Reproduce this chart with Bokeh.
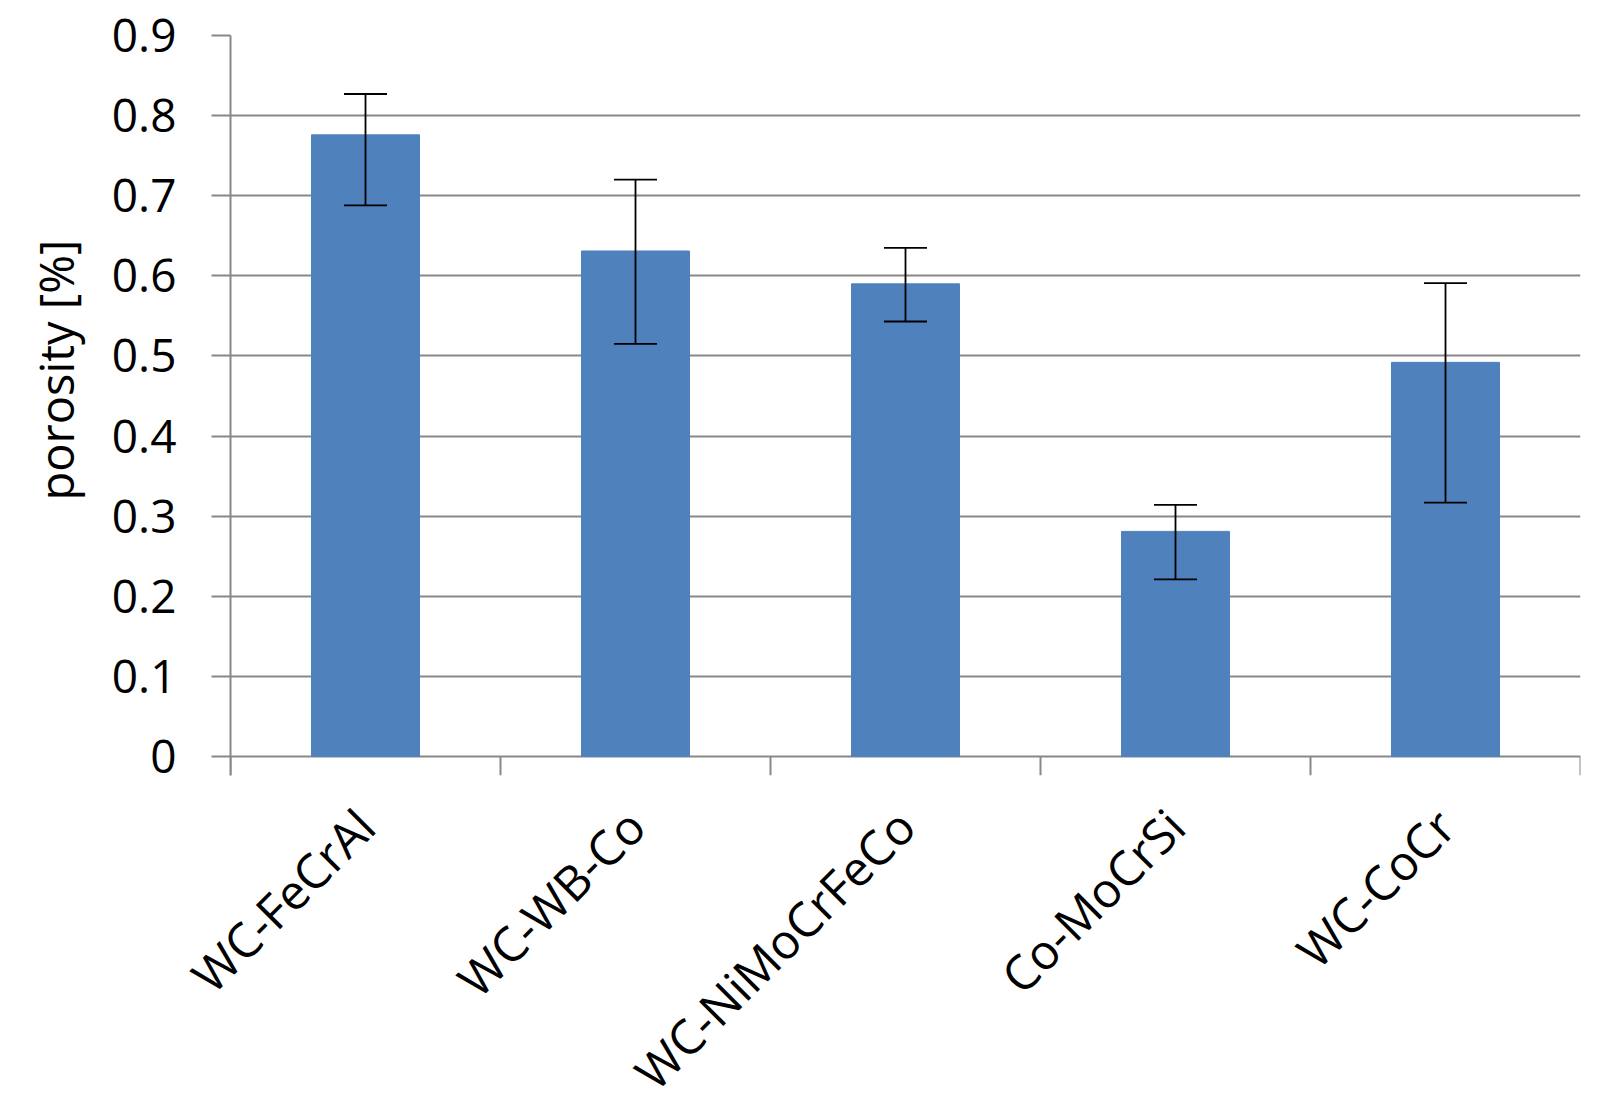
import math
from bokeh.plotting import figure
from bokeh.models import (ColumnDataSource, Range1d, LinearAxis,
                          FixedTicker, Whisker, TeeHead, Title)
from bokeh.embed import file_html
from bokeh.resources import INLINE

categories = ["WC-FeCrAl", "WC-WB-Co", "WC-NiMoCrFeCo", "Co-MoCrSi", "WC-CoCr"]
porosity = [0.776, 0.631, 0.590, 0.281, 0.492]
err_upper = [0.827, 0.720, 0.635, 0.314, 0.591]
err_lower = [0.688, 0.515, 0.543, 0.221, 0.317]
y_ticks = [0, 0.1, 0.2, 0.3, 0.4, 0.5, 0.6, 0.7, 0.8, 0.9]
y_tick_labels = ["0", "0.1", "0.2", "0.3", "0.4", "0.5", "0.6", "0.7", "0.8", "0.9"]
y_title = "porosity [%]"

FONT = "Open Sans"
GRID = "#888888"
BAR = "#4F81BD"

n = len(categories)
centers = [i + 0.5 for i in range(n)]
bounds = list(range(n + 1))

PLOT_H = 721          # pixel height of the 0..0.9 value area
TICK_PX = 19          # length of the category separator ticks below the x axis
y_top = y_ticks[-1]
y_bottom = -y_top * TICK_PX / PLOT_H

src = ColumnDataSource(dict(x=centers, cat=categories, val=porosity, up=err_upper, lo=err_lower))
sep = ColumnDataSource(dict(x=bounds, y0=[0] * len(bounds), y1=[y_bottom] * len(bounds)))

p = figure(x_range=Range1d(0, n), y_range=Range1d(y_bottom, y_top),
           frame_width=1350, frame_height=PLOT_H + TICK_PX,
           min_border_left=230, min_border_right=5, min_border_top=35, min_border_bottom=300,
           output_backend="svg", toolbar_location=None,
           x_axis_location=None, y_axis_location=None)
p.outline_line_color = None
p.background_fill_color = "white"

# category labels
cat_axis = LinearAxis(ticker=FixedTicker(ticks=centers))
cat_axis.major_label_overrides = {c: s for c, s in zip(centers, categories)}
cat_axis.axis_line_color = None
cat_axis.major_tick_line_color = None
cat_axis.minor_tick_line_color = None
cat_axis.major_label_orientation = math.pi / 4
cat_axis.major_label_text_font = FONT
cat_axis.major_label_text_font_size = "48px"
cat_axis.major_label_text_color = "black"
cat_axis.major_label_standoff = 36
p.add_layout(cat_axis, "below")

y_axis = LinearAxis(ticker=FixedTicker(ticks=y_ticks))
y_axis.major_label_overrides = {t: s for t, s in zip(y_ticks, y_tick_labels)}
y_axis.axis_line_color = GRID
y_axis.axis_line_width = 2
y_axis.major_tick_line_color = GRID
y_axis.major_tick_line_width = 2
y_axis.major_tick_out = 19
y_axis.major_tick_in = 0
y_axis.minor_tick_line_color = None
y_axis.major_label_text_font = FONT
y_axis.major_label_text_font_size = "46px"
y_axis.major_label_text_color = "black"
y_axis.major_label_standoff = 35
p.add_layout(y_axis, "left")

title = Title(text=y_title, align="left", offset=275, standoff=42,
              text_font=FONT, text_font_size="47px", text_font_style="normal",
              text_color="black")
p.add_layout(title, "left")

p.xgrid.visible = False
p.ygrid.ticker = FixedTicker(ticks=y_ticks)
p.ygrid.grid_line_color = GRID
p.ygrid.grid_line_width = 2

# category separator ticks below the x axis
p.segment(x0="x", y0="y0", x1="x", y1="y1", source=sep, line_color=GRID, line_width=2)

p.vbar(x="x", top="val", width=0.4, source=src, fill_color=BAR, line_color=BAR)

w = Whisker(base="x", upper="up", lower="lo", source=src, level="annotation",
            line_color="black", line_width=1.8,
            upper_head=TeeHead(size=43, line_color="black", line_width=1.8),
            lower_head=TeeHead(size=43, line_color="black", line_width=1.8))
p.add_layout(w)

open("out.html", "w").write(file_html(p, INLINE))
